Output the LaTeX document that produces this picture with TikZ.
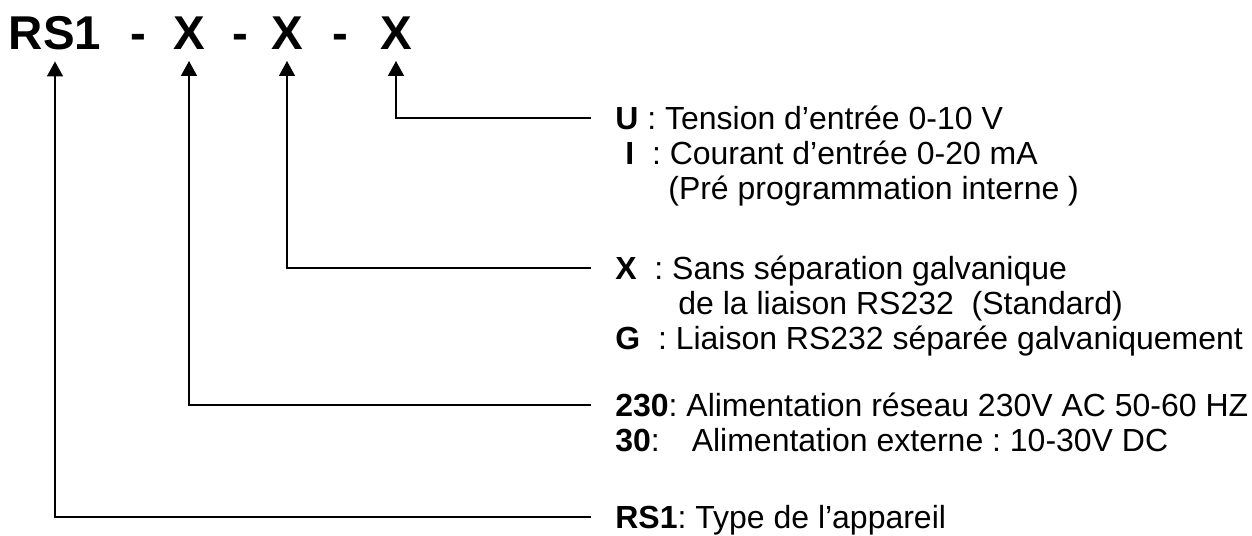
\documentclass[tikz,border=0pt]{standalone}
\usepackage{fontspec}
\setmainfont{Liberation Sans}
\usetikzlibrary{arrows.meta}
\frenchspacing

\begin{document}
\begin{tikzpicture}[x=2cm,y=2cm]
      \useasboundingbox(0,0) rectangle (12.52,5.35);
      \tikzset{H/.style = {inner sep=0pt, outer ysep=0.22cm, anchor=base, font=\fontsize{27}{32}\selectfont\bfseries}}
      \tikzset{D/.style = {inner sep=0pt, inner xsep=0.48cm, anchor=base west, text height=0.46cm, text depth=0pt, font=\fontsize{18.2}{22}\selectfont}}
      \tikzset{E/.style = {draw, line width=0.9pt, -{Triangle[length=0.3cm,width=0.32cm]}}}
      \node[H](hRS) at (0.55,4.85) {RS1};
      \node[H](hD1) at (1.38,4.85) {-};
      \node[H](hX1) at (1.89,4.85) {X};
      \node[H](hD2) at (2.40,4.85) {-};
      \node[H](hX2) at (2.87,4.85) {X};
      \node[H](hD3) at (3.40,4.85) {-};
      \node[H](hX3) at (3.96,4.85) {X};
      \node[D](dU) at (5.91,4.055) {\textbf{U} : Tension d’entrée 0-10 V};
      \node[D](dI) at (6.01,3.705) {\textbf{I}\ \ : Courant d’entrée 0-20 mA};
      \node[D](dP) at (6.44,3.355) {(Pré programmation interne )};
      \node[D](dX) at (5.91,2.555) {\textbf{X}\ \ : Sans séparation galvanique};
      \node[D](dS) at (6.54,2.205) {de la liaison RS232\ \ (Standard)};
      \node[D](dG) at (5.91,1.855) {\textbf{G}\ \ : Liaison RS232 séparée galvaniquement};
      \node[D](d230) at (5.91,1.185) {\textbf{230}: Alimentation réseau 230V AC 50-60 HZ};
      \node[D](d30) at (5.91,0.835) {\textbf{30}:\hspace{1em}Alimentation externe : 10-30V DC};
      \node[D](dRS) at (5.91,0.065) {\textbf{RS1}: Type de l’appareil};
      \draw[E](dU.west) -| (hX3);
      \draw[E](dX.west) -| (hX2);
      \draw[E](d230.west) -| (hX1);
      \draw[E](dRS.west) -| (hRS);
    \end{tikzpicture}
\end{document}
